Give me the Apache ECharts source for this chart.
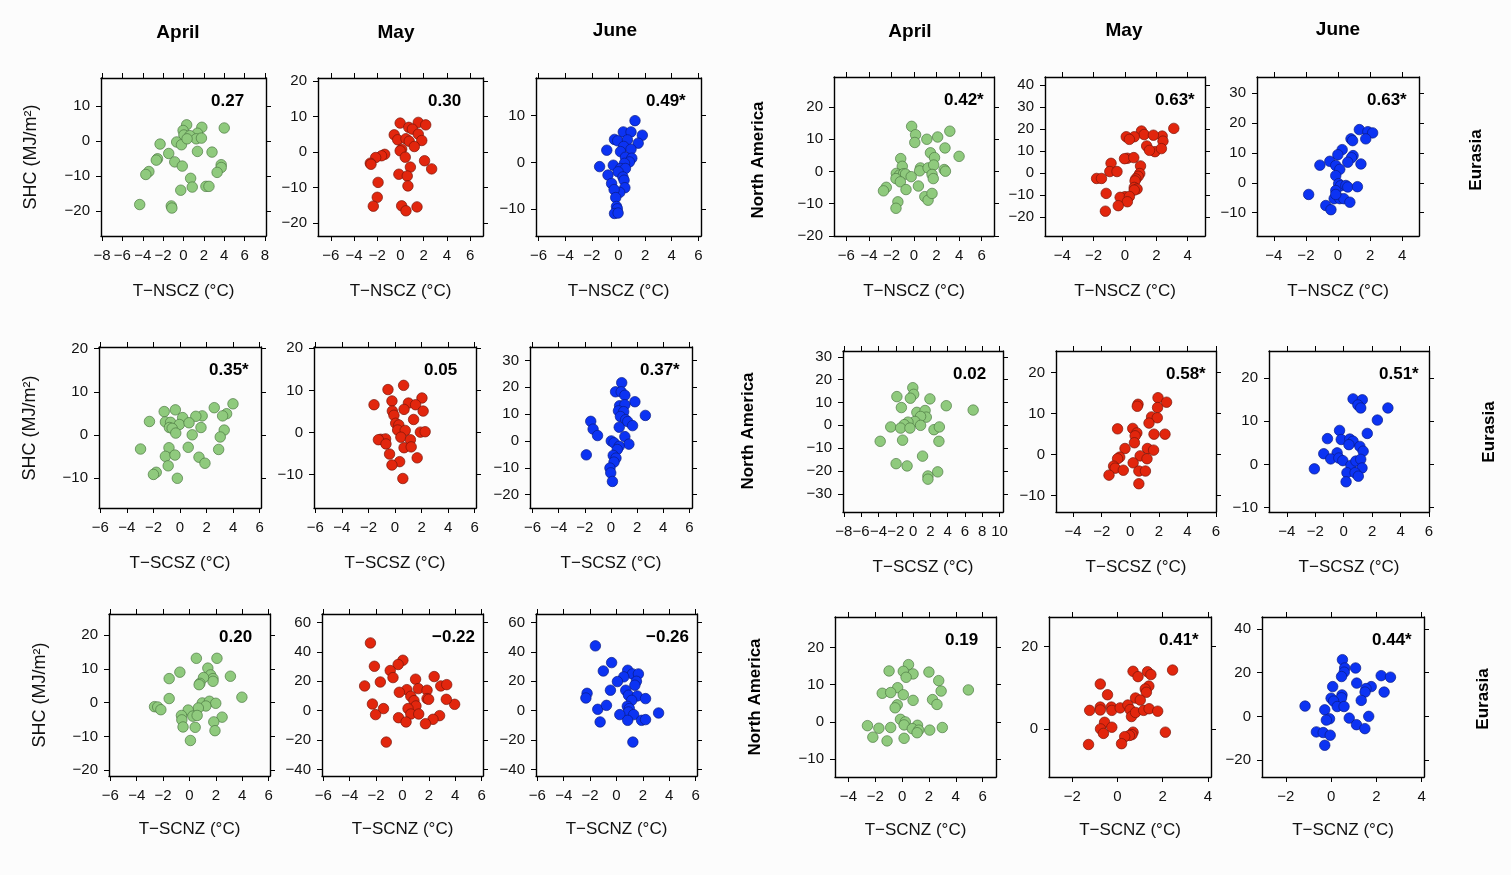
<!DOCTYPE html>
<html><head><meta charset="utf-8">
<script src="https://cdn.jsdelivr.net/npm/echarts@6/dist/echarts.min.js"></script>
<style>html,body{margin:0;padding:0;background:#fff;}#c{width:1511px;height:875px;}</style>
</head><body><div id="c"></div>
<script>
// ---------------- DATA ----------------
const months = ['April', 'May', 'June'];
const xNames = ['T\u2212NSCZ (\u00b0C)', 'T\u2212SCSZ (\u00b0C)', 'T\u2212SCNZ (\u00b0C)'];
const yName = 'SHC (MJ/m\u00b2)';
const naLabel = 'North America';
const euLabel = 'Eurasia';

// row 1 (NSCZ), left block
const L_NSCZ_Apr = [[0.31,4.6],[-0.04,3.0],[0.04,1.7],[1.8,3.9],[4.0,3.7],[1.37,2.2],[0.63,1.5],[1.25,0.6],[1.76,0.8],[-0.67,-0.3],[-0.2,-1.1],[0.35,0.6],[-2.3,-0.9],[1.37,-3.0],[2.8,-3.2],[-1.45,-3.6],[-2.55,-5.1],[-2.67,-5.5],[-0.86,-6.0],[-0.12,-7.2],[3.7,-6.8],[3.7,-7.6],[3.3,-9.0],[-3.4,-8.75],[-3.7,-9.6],[0.7,-10.7],[-0.27,-14.1],[0.86,-13.2],[2.2,-13.0],[2.5,-13.0],[-4.3,-18.2],[-1.2,-18.6],[-1.14,-19.2]];
const L_NSCZ_May = [[-0.03,8.2],[1.53,8.4],[2.17,7.7],[0.71,7.0],[1.02,6.5],[-0.54,4.9],[1.53,5.1],[-0.24,3.5],[0.47,3.8],[0.75,3.1],[1.83,3.3],[1.19,1.6],[0.1,0.85],[-0.03,0.4],[-1.36,-0.6],[-1.63,-1.0],[-2.14,-1.5],[-2.6,-3.1],[-2.54,-3.4],[0.41,-1.4],[2.07,-2.4],[2.68,-4.7],[0.85,-4.2],[-0.14,-6.2],[0.58,-6.7],[-1.93,-8.5],[0.64,-9.5],[-2.0,-12.7],[-2.34,-15.2],[0.1,-15.1],[1.42,-15.4],[0.47,-16.5]];
const L_NSCZ_Jun = [[1.24,8.9],[0.36,6.5],[0.94,6.5],[1.79,5.8],[-0.3,4.9],[-0.06,4.6],[0.67,4.8],[1.48,4.1],[0.39,3.4],[0.94,2.8],[-0.88,2.6],[0.15,2.3],[0.52,1.1],[1.0,0.9],[0.82,0.1],[0.45,-0.2],[-1.42,-0.9],[-0.39,-0.6],[0.15,-1.3],[0.52,-1.3],[-0.03,-2.0],[-0.79,-2.7],[0.33,-3.1],[0.42,-3.8],[-0.52,-4.5],[0.48,-5.4],[0.09,-6.4],[-0.33,-5.8],[-0.21,-7.5],[-0.15,-9.4],[-0.09,-9.9],[-0.3,-10.9],[-0.03,-10.8]];
// row 1 (NSCZ), right block
const R_NSCZ_Apr = [[-0.21,14.0],[0.14,11.4],[0.07,9.0],[3.18,12.5],[1.14,10.0],[2.1,10.7],[2.75,7.3],[4.0,4.7],[1.46,5.8],[1.82,4.3],[-1.18,4.0],[-1.04,1.6],[0.57,1.1],[0.5,0.2],[1.25,1.1],[1.75,2.0],[2.68,0.6],[2.79,0.1],[1.6,-0.9],[1.71,-2.2],[-1.57,-0.6],[-1.29,-1.1],[-0.93,-0.7],[-0.75,-0.8],[-1.6,-2.2],[-0.25,-1.6],[-1.21,-3.2],[-0.71,-5.6],[0.39,-4.5],[0.96,-7.8],[1.25,-8.9],[1.6,-6.8],[-2.46,-4.9],[-2.71,-6.0],[-1.43,-9.4],[-1.6,-11.4]];
const R_NSCZ_May = [[3.11,20.4],[1.05,19.2],[1.22,17.6],[2.37,16.9],[2.42,14.6],[1.81,17.3],[0.59,16.6],[0.08,16.6],[0.28,15.4],[1.38,12.4],[1.91,9.8],[2.32,11.2],[1.56,10.4],[0.15,6.8],[-0.03,6.6],[0.56,7.1],[-0.89,4.5],[-0.97,0.75],[-0.51,0.75],[0.99,3.3],[0.94,-0.15],[0.84,-1.4],[0.69,-2.6],[0.64,-3.5],[-1.81,-2.4],[-1.5,-2.4],[0.59,-6.5],[0.77,-7.2],[0.59,-7.7],[-1.2,-9.2],[0.0,-10.7],[-0.31,-11.0],[0.28,-10.6],[0.15,-13.0],[-0.43,-14.8],[-1.25,-17.3]];
const R_NSCZ_Jun = [[1.33,17.8],[1.86,17.1],[2.16,16.7],[1.73,14.7],[0.81,14.7],[0.91,14.1],[0.26,11.1],[-0.01,9.4],[0.94,9.1],[0.84,8.4],[0.61,6.9],[1.43,6.3],[-1.13,5.9],[-0.51,7.2],[-0.14,5.8],[0.11,4.5],[-0.14,2.4],[0.04,-0.3],[0.16,-1.0],[0.49,-0.9],[0.61,-1.4],[1.21,-1.3],[-1.83,-3.9],[-0.14,-2.6],[-0.09,-4.8],[-0.24,-5.3],[0.11,-5.3],[0.36,-5.3],[0.74,-6.5],[-0.76,-7.6],[-0.44,-9.0],[-0.14,-3.9]];
// row 2 (SCSZ), left block
const L_SCSZ_Apr = [[3.99,7.2],[2.58,6.3],[3.51,4.9],[3.21,4.4],[1.67,4.4],[1.19,4.3],[-1.19,5.4],[-0.35,5.8],[0.2,4.0],[-2.3,3.1],[-1.1,3.0],[-0.71,2.9],[-0.05,2.4],[0.68,2.8],[-0.8,1.7],[-0.59,1.5],[-0.32,0.4],[1.58,1.7],[3.33,1.1],[0.92,0.0],[3.03,-0.5],[-2.97,-3.3],[-0.83,-3.0],[0.62,-2.9],[2.91,-3.4],[-1.1,-5.0],[-0.38,-4.7],[1.43,-5.2],[1.88,-6.6],[-0.89,-7.2],[-1.79,-8.7],[-2.0,-9.2],[-0.2,-10.1]];
const L_SCSZ_May = [[0.65,11.2],[-0.53,10.2],[2.03,8.2],[-0.23,7.5],[1.01,7.0],[1.55,6.6],[-1.58,6.6],[-0.2,5.1],[0.68,5.5],[2.12,5.1],[-0.08,4.1],[1.4,3.1],[0.05,2.2],[0.29,1.8],[0.2,0.6],[1.91,0.1],[2.27,0.2],[0.77,0.5],[0.44,-1.1],[-1.07,-1.6],[-0.71,-1.5],[-1.25,-1.7],[-0.68,-2.7],[1.16,-1.7],[0.68,-3.6],[1.22,-3.4],[-0.41,-5.1],[1.67,-6.0],[0.35,-6.9],[-0.23,-7.7],[0.59,-10.9]];
const L_SCSZ_Jun = [[0.82,21.7],[0.35,18.3],[0.78,18.3],[1.06,17.0],[1.83,14.6],[0.66,13.1],[1.06,13.5],[2.63,9.5],[0.57,11.2],[0.97,10.9],[0.72,9.1],[1.12,7.9],[1.28,7.2],[1.65,5.7],[-1.55,7.3],[-1.37,4.4],[-1.03,2.0],[0.63,5.1],[1.06,1.6],[1.37,-1.2],[0.02,0.0],[0.23,-0.7],[0.63,-2.0],[0.48,-3.2],[-1.89,-5.2],[0.17,-5.4],[0.38,-6.4],[0.23,-7.9],[-0.08,-10.1],[-0.02,-11.9],[0.11,-15.1]];
// row 2 (SCSZ), right block
const R_SCSZ_Apr = [[-0.03,16.5],[0.07,13.6],[-0.31,11.9],[-1.87,12.6],[1.95,11.6],[-1.35,7.8],[3.84,8.6],[6.95,6.7],[0.44,5.7],[1.39,6.5],[1.53,3.6],[0.87,3.9],[0.21,1.7],[-0.59,1.4],[-1.02,0.3],[0.87,0.0],[-2.58,-0.7],[-1.44,-1.2],[-0.36,-1.2],[2.42,-1.9],[3.04,-0.7],[-1.21,-6.5],[2.99,-7.0],[-3.8,-7.0],[1.1,-13.5],[-1.96,-16.8],[-0.69,-17.8],[2.85,-20.4],[1.72,-22.2],[1.72,-23.6]];
const R_SCSZ_May = [[1.94,13.9],[2.54,12.8],[1.91,11.5],[0.54,12.3],[0.49,11.8],[1.49,9.2],[1.89,9.0],[1.31,7.7],[-0.89,6.3],[0.17,6.4],[0.46,5.3],[0.34,4.6],[1.66,5.0],[2.43,5.0],[0.29,2.9],[-0.37,1.5],[1.2,1.5],[1.63,1.1],[-0.74,-0.6],[-0.89,-1.0],[0.69,-0.3],[1.17,-1.0],[0.2,-2.0],[-1.17,-2.8],[-1.06,-3.3],[-0.49,-3.8],[0.6,-4.0],[1.06,-4.0],[-1.49,-5.0],[0.6,-7.1]];
const R_SCSZ_Jun = [[0.66,15.2],[1.31,15.0],[1.0,13.8],[1.2,13.1],[3.11,13.1],[2.37,10.3],[1.66,7.2],[-0.29,7.9],[-1.14,6.0],[-0.17,5.8],[0.43,5.9],[0.66,5.4],[0.37,4.6],[1.14,4.2],[1.37,3.1],[-0.46,2.7],[-1.4,2.5],[-0.91,1.3],[-0.34,1.5],[-0.06,0.9],[0.51,-0.2],[0.86,0.8],[1.2,1.2],[1.29,-0.8],[-2.06,-1.0],[0.23,-1.9],[0.8,-1.9],[1.03,-2.7],[0.17,-4.0]];
// row 3 (SCNZ), left block
const L_SCNZ_Apr = [[0.52,13.1],[2.08,13.1],[1.39,10.2],[-0.73,9.0],[3.1,7.8],[1.6,8.2],[1.78,7.1],[1.78,6.3],[1.06,7.4],[0.79,5.7],[0.73,5.3],[-1.54,7.1],[3.97,1.6],[-1.54,1.2],[-2.65,-1.2],[-2.41,-1.3],[-2.17,-2.1],[0.97,-0.1],[1.51,0.4],[1.99,-0.2],[1.24,-1.0],[0.67,-1.6],[-0.1,-2.2],[0.25,-4.0],[0.58,-3.8],[-0.61,-3.8],[-0.58,-5.1],[2.47,-4.3],[1.84,-5.7],[-0.49,-7.2],[0.43,-7.3],[1.93,-8.3],[0.07,-11.2]];
const L_SCNZ_May = [[-2.43,46.1],[-2.13,30.2],[0.03,34.3],[-0.33,31.4],[-0.93,27.3],[-0.72,22.5],[-1.68,19.5],[-2.87,16.8],[0.99,21.4],[2.4,23.2],[0.33,14.3],[1.2,15.0],[1.86,13.9],[-0.24,12.5],[0.63,9.8],[2.9,16.8],[3.35,17.7],[0.87,6.8],[1.86,8.2],[1.98,7.7],[1.02,3.2],[-2.28,4.5],[3.95,4.3],[3.32,7.7],[-1.44,1.4],[0.42,1.4],[0.63,-2.3],[-2.04,-2.7],[-0.3,-4.8],[0.27,-7.7],[1.23,-2.3],[2.81,-3.4],[2.31,-5.9],[1.74,-8.9],[-1.23,-21.4]];
const L_SCNZ_Jun = [[-1.6,44.1],[-0.37,32.7],[-1.0,27.0],[0.85,27.5],[1.21,25.0],[1.66,25.0],[0.55,23.0],[0.07,19.8],[1.51,20.0],[1.39,17.3],[-0.46,13.9],[0.7,13.9],[0.91,10.5],[1.57,10.0],[1.15,7.0],[-2.23,11.8],[-2.32,8.6],[2.2,8.2],[-1.42,0.9],[-0.76,3.6],[0.82,3.0],[0.97,1.4],[0.91,-0.9],[0.25,-2.7],[1.3,-2.7],[3.19,-1.6],[1.9,-6.6],[2.2,-6.1],[-1.24,-7.7],[0.85,-6.6],[1.24,-21.4]];
// row 3 (SCNZ), right block
const R_SCNZ_Apr = [[0.48,15.4],[-0.97,13.7],[0.09,13.6],[0.82,12.9],[0.3,12.0],[2.0,13.4],[2.73,11.1],[-0.33,9.2],[2.91,8.3],[-1.48,7.7],[-0.85,7.9],[0.09,7.3],[4.94,8.6],[2.27,6.0],[0.82,5.8],[2.6,4.7],[-0.36,4.6],[-0.52,3.8],[-0.12,0.7],[0.24,0.0],[0.15,-0.8],[-2.58,-1.0],[-1.73,-1.7],[-0.85,-1.5],[1.15,-0.9],[0.76,-1.8],[1.24,-2.2],[1.12,-2.9],[2.06,-2.2],[3.0,-1.5],[-2.18,-4.1],[-1.12,-5.1],[0.15,-4.4]];
const R_SCNZ_May = [[0.69,14.0],[0.91,12.7],[1.33,13.9],[1.48,13.2],[2.44,14.3],[-0.76,10.9],[1.39,10.4],[1.23,9.7],[1.28,8.9],[0.8,7.5],[1.01,7.0],[-0.44,8.3],[-1.23,4.5],[-0.76,5.3],[-0.76,4.6],[-0.27,5.3],[-0.25,4.5],[0.12,5.1],[0.46,5.8],[0.56,4.7],[0.62,3.0],[0.8,4.0],[1.16,4.5],[1.4,4.9],[1.78,4.3],[-0.57,1.6],[-0.75,0.0],[-0.62,-1.1],[-0.25,0.4],[2.12,-0.8],[0.69,-0.8],[0.64,-1.4],[0.53,-1.6],[0.32,-1.9],[0.18,-3.6],[-1.28,-3.8]];
const R_SCNZ_Jun = [[0.5,25.9],[0.6,22.1],[0.58,20.2],[0.46,18.2],[1.08,22.1],[2.21,18.6],[2.62,17.9],[1.13,15.2],[0.07,13.6],[1.77,13.6],[1.54,12.7],[1.5,11.1],[2.34,11.1],[0.48,9.8],[0.46,8.5],[0.0,8.3],[0.11,7.0],[0.27,4.5],[0.57,4.5],[1.33,7.3],[-1.15,4.7],[-0.28,3.0],[-0.07,-1.1],[-0.21,-1.7],[0.8,-0.8],[1.12,-3.8],[1.66,0.0],[1.49,-5.6],[-0.65,-7.1],[-0.35,-7.4],[-0.04,-8.6],[-0.28,-13.2]];

const correlations = ['0.27','0.30','0.49*','0.42*','0.63*','0.63*','0.35*','0.05','0.37*','0.02','0.58*','0.51*','0.20','\u22120.22','\u22120.26','0.19','0.41*','0.44*'];

// axis ranges and tick labels
const xRanges = [[-8.1,8.1],[-7.1,7.1],[-6.2,6.2],[-7.1,7.1],[-5.1,5.1],[-5.05,5.05],[-6.1,6.1],[-6.1,6.1],[-6.2,6.2],[-8.1,10.4],[-5.2,6.0],[-5.25,6.0],[-6.1,6.1],[-6.1,6.1],[-6.1,6.1],[-5,7],[-3.03,4.14],[-3.05,4.1]];
const yRanges = [[-27.2,18],[-23.6,20.9],[-15.7,18],[-20,29.3],[-28.6,43.8],[-17.8,35.4],[-17,20.4],[-17.9,20.3],[-25,35],[-38,32.6],[-14,25.3],[-11,26.3],[-21.7,26.2],[-44.5,65.8],[-44.5,65.8],[-14.8,28.2],[-11.7,27.2],[-27.7,45.4]];
const tk8 = [-8,-6,-4,-2,0,2,4,6,8];
const tk6 = [-6,-4,-2,0,2,4,6];
const tk4 = [-4,-2,0,2,4];
const tk46 = [-4,-2,0,2,4,6];
const tk810 = [-8,-6,-4,-2,0,2,4,6,8,10];
const tk24 = [-2,0,2,4];
const xTicks = [tk8,tk6,tk6,tk6,tk4,tk4,tk6,tk6,tk6,tk810,tk46,tk46,tk6,tk6,tk6,tk46,tk24,tk24];
const yTicks = [[-20,-10,0,10],[-20,-10,0,10,20],[-10,0,10],[-20,-10,0,10,20],[-20,-10,0,10,20,30,40],[-10,0,10,20,30],[-10,0,10,20],[-10,0,10,20],[-20,-10,0,10,20,30],[-30,-20,-10,0,10,20,30],[-10,0,10,20],[-10,0,10,20],[-20,-10,0,10,20],[-40,-20,0,20,40,60],[-40,-20,0,20,40,60],[-10,0,10,20],[0,20],[-20,0,20,40]];

const panelData = [L_NSCZ_Apr,L_NSCZ_May,L_NSCZ_Jun,R_NSCZ_Apr,R_NSCZ_May,R_NSCZ_Jun,
  L_SCSZ_Apr,L_SCSZ_May,L_SCSZ_Jun,R_SCSZ_Apr,R_SCSZ_May,R_SCSZ_Jun,
  L_SCNZ_Apr,L_SCNZ_May,L_SCNZ_Jun,R_SCNZ_Apr,R_SCNZ_May,R_SCNZ_Jun];

// ---------------- LAYOUT / STYLE ----------------
const boxes = [
  [101,78,165,158],[318,78,165,158],[536,78,165,158],
  [834,77,160,159],[1045,77,160,159],[1257,77,162,159],
  [99,347,162,161],[314,347,162,161],[530,347,162,161],
  [843,351,160,161],[1056,351,160,161],[1269,351,160,161],
  [109,614,161,162],[322,614,161,162],[536,614,161,162],
  [835,617,161,160],[1049,617,162,160],[1262,617,162,160]
];
const nameGaps = [47, 47, 45];
const FONT = '"Liberation Sans", Arial, Helvetica, sans-serif';
const fills = ['#8fca7d', '#e2260d', '#0c33f3'];
const strokes = ['#4e7a44', '#7a150a', '#0a1d85'];
const fmt = v => String(v).replace('-', '\u2212');

const grids = [], xAxes = [], yAxes = [], series = [], graphics = [];
boxes.forEach((b, i) => {
  const row = Math.floor(i / 6);
  const m = i % 3;
  grids.push({left: b[0], top: b[1], width: b[2], height: b[3], show: false});
  const line = {show: true, onZero: false, lineStyle: {color: '#000', width: 1.4}};
  const tick = vals => ({show: true, inside: false, length: 5, customValues: vals, lineStyle: {color: '#000', width: 1}});
  xAxes.push({gridIndex: i, type: 'value', position: 'bottom', min: xRanges[i][0], max: xRanges[i][1],
    axisLine: line, splitLine: {show: false}, axisTick: tick(xTicks[i]),
    axisLabel: {customValues: xTicks[i], formatter: fmt, fontSize: 15, color: '#111', margin: 12, fontFamily: FONT},
    name: xNames[row], nameLocation: 'middle', nameGap: nameGaps[row],
    nameTextStyle: {fontSize: 17, color: '#111', fontFamily: FONT}});
  xAxes.push({gridIndex: i, type: 'value', position: 'top', min: xRanges[i][0], max: xRanges[i][1],
    axisLine: line, splitLine: {show: false}, axisTick: tick(xTicks[i]), axisLabel: {show: false}});
  yAxes.push({gridIndex: i, type: 'value', position: 'left', min: yRanges[i][0], max: yRanges[i][1],
    axisLine: line, splitLine: {show: false}, axisTick: tick(yTicks[i]),
    axisLabel: {customValues: yTicks[i], formatter: fmt, fontSize: 15, color: '#111', margin: 11, fontFamily: FONT}});
  yAxes.push({gridIndex: i, type: 'value', position: 'right', min: yRanges[i][0], max: yRanges[i][1],
    axisLine: line, splitLine: {show: false}, axisTick: tick(yTicks[i]), axisLabel: {show: false}});
  series.push({type: 'scatter', xAxisIndex: 2 * i, yAxisIndex: 2 * i, data: panelData[i],
    symbol: 'circle', symbolSize: 10.5, silent: true,
    itemStyle: {color: fills[m], borderColor: strokes[m], borderWidth: 0.7, opacity: 1}});
  graphics.push({type: 'text', x: b[0] + 110, y: b[1] + 23,
    style: {text: correlations[i], font: 'bold 17px ' + FONT, fill: '#000', align: 'left', verticalAlign: 'middle'}});
});

// column titles
const titlePos = [[178,33],[396,33],[615,31],[910,32],[1124,31],[1338,30]];
titlePos.forEach((p, k) => graphics.push({type: 'text', x: p[0], y: p[1],
  style: {text: months[k % 3], font: 'bold 19px ' + FONT, fill: '#000', align: 'center', verticalAlign: 'middle'}}));
// y titles
[[31,157],[30,428],[40,695]].forEach(p => graphics.push({type: 'text', x: p[0], y: p[1], rotation: Math.PI / 2,
  style: {text: yName, font: '18px ' + FONT, fill: '#111', align: 'center', verticalAlign: 'middle'}}));
[[758,160],[748,431],[755,697]].forEach(p => graphics.push({type: 'text', x: p[0], y: p[1], rotation: Math.PI / 2,
  style: {text: naLabel, font: 'bold 17px ' + FONT, fill: '#000', align: 'center', verticalAlign: 'middle'}}));
[[1476,160],[1489,432],[1483,699]].forEach(p => graphics.push({type: 'text', x: p[0], y: p[1], rotation: Math.PI / 2,
  style: {text: euLabel, font: 'bold 17px ' + FONT, fill: '#000', align: 'center', verticalAlign: 'middle'}}));

const chart = echarts.init(document.getElementById('c'), null, {renderer: 'canvas'});
chart.setOption({
  backgroundColor: '#fcfcfc',
  animation: false,
  textStyle: {fontFamily: FONT},
  grid: grids, xAxis: xAxes, yAxis: yAxes, series: series, graphic: graphics
});
</script></body></html>
